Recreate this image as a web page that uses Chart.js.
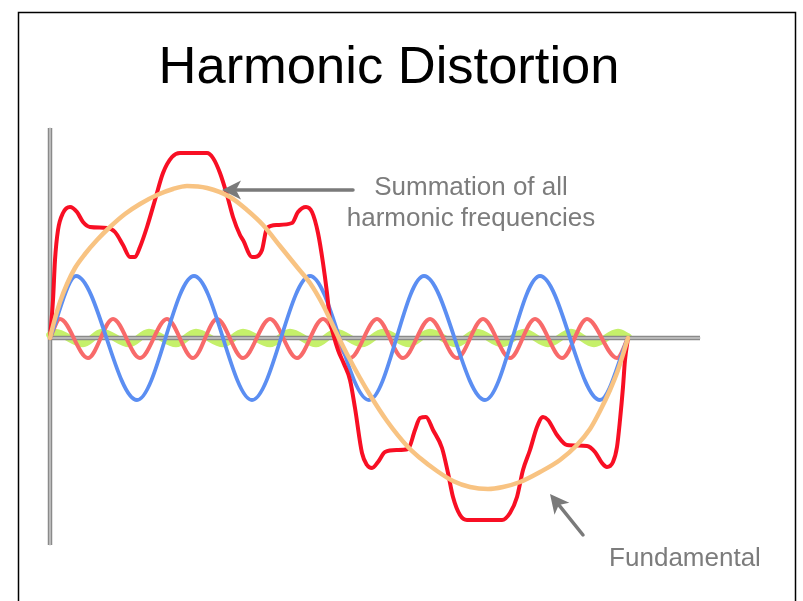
<!DOCTYPE html>
<html>
<head>
<meta charset="utf-8">
<script src="https://cdn.jsdelivr.net/npm/chart.js@4/dist/chart.umd.min.js"></script>
<style>
  html, body { margin: 0; padding: 0; background: #ffffff; }
  #wrap { position: relative; width: 803px; height: 601px; }
  canvas { display: block; }
</style>
</head>
<body>
<div id="wrap"><canvas id="c" width="803" height="601"></canvas></div>
<script>
// Phase position (px-like units along one fundamental period, 0..578) and amplitude values
const fundamentalX = [0, 4, 10, 17, 25, 35, 47, 60, 75, 90, 107, 123, 137, 157, 180, 197, 213, 230, 247, 260, 273, 286, 298, 310, 320, 337, 358, 370, 387, 403, 420, 438, 453, 470, 490, 510, 527, 540, 550, 560, 568, 578];
const fundamentalY = [0, 16, 36, 54, 70, 84, 98, 111, 124, 134, 143, 149, 152, 150, 141, 128, 113, 92, 71, 55, 33, 6, -18, -40, -57, -83, -109, -120, -133, -143, -149, -151, -149, -144, -134, -122, -107, -91, -73, -52, -32, 0];

const harmonicBlueX = [0, 26, 87, 144, 202, 260, 319, 374, 435, 490, 550, 578];
const harmonicBlueY = [0, 62, -62, 62, -62, 62, -62, 62, -62, 62, -62, 0];

const harmonicRedX = [0, 10, 38, 63, 90, 117, 143, 167, 193, 220, 247, 273, 300, 327, 353, 380, 407, 433, 460, 485, 512, 537, 567, 578];
const harmonicRedY = [0, 19, -20, 19, -20, 19, -20, 19, -20, 19, -20, 19, -20, 19, -20, 19, -20, 19, -20, 19, -20, 19, -20, 0];

const harmonicGreenX = [0, 5, 33, 52, 79, 99, 126, 146, 173, 193, 220, 240, 266, 286, 312, 333, 359, 380, 406, 427, 452, 474, 498, 521, 544, 568, 578];
const harmonicGreenY = [3, 5.5, -5.5, 5.5, -5.5, 5.5, -5.5, 5.5, -5.5, 5.5, -5.5, 5.5, -5.5, 5.5, -5.5, 5.5, -5.5, 5.5, -5.5, 5.5, -5.5, 5.5, -5.5, 5.5, -5.5, 5.5, 1];

const sumX = [0, 3, 5, 8, 13, 20, 27, 33, 40, 57, 65, 73, 80, 85, 90, 97, 105, 113, 122, 130, 157, 163, 170, 177, 183, 190, 193, 202, 205, 212, 217, 227, 242, 248, 256, 262, 268, 273, 277, 280, 284, 288, 294, 300, 305, 312, 317, 322, 328, 335, 347, 358, 365, 370, 376, 383, 392, 398, 403, 410, 417, 452, 460, 467, 473, 480, 487, 493, 498, 507, 517, 537, 545, 552, 557, 563, 567, 570, 573, 575, 578];
const sumY = [0, 38, 78, 108, 125, 131, 126, 116, 111, 110, 106, 93, 81, 81, 91, 111, 138, 165, 181, 185, 185, 180, 165, 143, 121, 103, 98, 81, 81, 88, 110, 113, 115, 126, 131, 126, 105, 75, 45, 18, 1, -12, -26, -42, -70, -115, -127, -130, -124, -114, -112, -111, -92, -80, -79, -92, -110, -135, -159, -177, -182, -182, -175, -159, -132, -112, -89, -79, -82, -97, -107, -108, -114, -125, -129, -124, -109, -82, -49, -22, 0];

// Axis extents (same units)
const axisXRange = [0, 650];
const axisYRange = [-207, 210];

function pts(xs, ys) { return xs.map((x, i) => ({ x: x, y: ys[i] })); }

const common = {
  showLine: true, pointRadius: 0, pointHoverRadius: 0, fill: false,
  cubicInterpolationMode: 'monotone', clip: false,
  borderCapStyle: 'round', borderJoinStyle: 'round'
};

const annotations = {
  id: 'annotations',
  beforeDraw(chart) {
    const ctx = chart.ctx;
    ctx.save();
    ctx.fillStyle = '#ffffff';
    ctx.fillRect(0, 0, chart.width, chart.height);
    ctx.restore();
  },
  afterDraw(chart) {
    const ctx = chart.ctx;
    ctx.save();
    // frame
    ctx.strokeStyle = '#000000';
    ctx.lineWidth = 1.5;
    ctx.beginPath();
    ctx.moveTo(18.5, 610);
    ctx.lineTo(18.5, 12.5);
    ctx.lineTo(795.5, 12.5);
    ctx.lineTo(795.5, 610);
    ctx.stroke();

    // title
    ctx.fillStyle = '#000000';
    ctx.font = '52.5px "Liberation Sans", Arial, sans-serif';
    ctx.textAlign = 'center';
    ctx.textBaseline = 'alphabetic';
    ctx.fillText('Harmonic Distortion', 389, 83);

    // labels
    ctx.fillStyle = '#7c7c7c';
    ctx.font = '26px "Liberation Sans", Arial, sans-serif';
    ctx.fillText('Summation of all', 471, 195);
    ctx.fillText('harmonic frequencies', 471, 226);
    ctx.fillText('Fundamental', 685, 566);

    // arrows
    function arrow(x1, y1, x2, y2) {
      const dx = x2 - x1, dy = y2 - y1;
      const len = Math.hypot(dx, dy);
      const ux = dx / len, uy = dy / len;
      const hl = 19, hw = 9.5;
      ctx.strokeStyle = '#7a7a7a';
      ctx.fillStyle = '#7a7a7a';
      ctx.lineWidth = 3.5;
      ctx.lineCap = 'round';
      ctx.beginPath();
      ctx.moveTo(x1, y1);
      ctx.lineTo(x2 - ux * (hl - 4), y2 - uy * (hl - 4));
      ctx.stroke();
      const bx = x2 - ux * hl, by = y2 - uy * hl;
      ctx.beginPath();
      ctx.moveTo(x2, y2);
      ctx.lineTo(bx - uy * hw, by + ux * hw);
      ctx.lineTo(x2 - ux * (hl - 5), y2 - uy * (hl - 5));
      ctx.lineTo(bx + uy * hw, by - ux * hw);
      ctx.closePath();
      ctx.fill();
    }
    arrow(353, 190, 222, 190);
    arrow(583, 535, 550, 494);
    ctx.restore();
  }
};

new Chart(document.getElementById('c'), {
  type: 'scatter',
  data: {
    datasets: [
      Object.assign({}, common, { label: 'Fundamental', data: pts(fundamentalX, fundamentalY), borderColor: '#f8c382', borderWidth: 4.5, order: 1 }),
      Object.assign({}, common, { label: 'Summation of all harmonic frequencies', data: pts(sumX, sumY), borderColor: '#f80f24', borderWidth: 4, order: 2 }),
      Object.assign({}, common, { label: 'Harmonic (blue)', data: pts(harmonicBlueX, harmonicBlueY), borderColor: '#5b8ef2', borderWidth: 3.8, order: 3 }),
      Object.assign({}, common, { label: 'Harmonic (red)', data: pts(harmonicRedX, harmonicRedY), borderColor: '#f86a6a', borderWidth: 4, order: 4 }),
      Object.assign({}, common, { label: 'axis-h-light', data: [{ x: -2, y: 0 }, { x: axisXRange[1], y: 0 }], borderColor: '#c9c9c9', borderWidth: 1.4, cubicInterpolationMode: 'default', tension: 0, order: 5 }),
      Object.assign({}, common, { label: 'axis-h', data: [{ x: -2, y: 0 }, { x: axisXRange[1], y: 0 }], borderColor: '#8a8a8a', borderWidth: 4.5, borderCapStyle: 'butt', cubicInterpolationMode: 'default', tension: 0, order: 6 }),
      Object.assign({}, common, { label: 'Harmonic (green)', data: pts(harmonicGreenX, harmonicGreenY), borderColor: '#c5f06a', borderWidth: 7.5, order: 7 }),
      Object.assign({}, common, { label: 'axis-v-light', data: [{ x: 0, y: axisYRange[0] }, { x: 0, y: axisYRange[1] }], borderColor: '#cfcfcf', borderWidth: 1.4, cubicInterpolationMode: 'default', tension: 0, order: 8 }),
      Object.assign({}, common, { label: 'axis-v', data: [{ x: 0, y: axisYRange[0] }, { x: 0, y: axisYRange[1] }], borderColor: '#8a8a8a', borderWidth: 4.5, borderCapStyle: 'butt', cubicInterpolationMode: 'default', tension: 0, order: 9 })
    ]
  },
  options: {
    responsive: false,
    animation: false,
    events: [],
    layout: { padding: { left: 50, top: 128, right: 103, bottom: 56 } },
    plugins: { legend: { display: false }, title: { display: false }, tooltip: { enabled: false } },
    scales: {
      x: { type: 'linear', display: false, min: axisXRange[0], max: axisXRange[1] },
      y: { type: 'linear', display: false, min: axisYRange[0], max: axisYRange[1] }
    }
  },
  plugins: [annotations]
});
</script>
</body>
</html>
